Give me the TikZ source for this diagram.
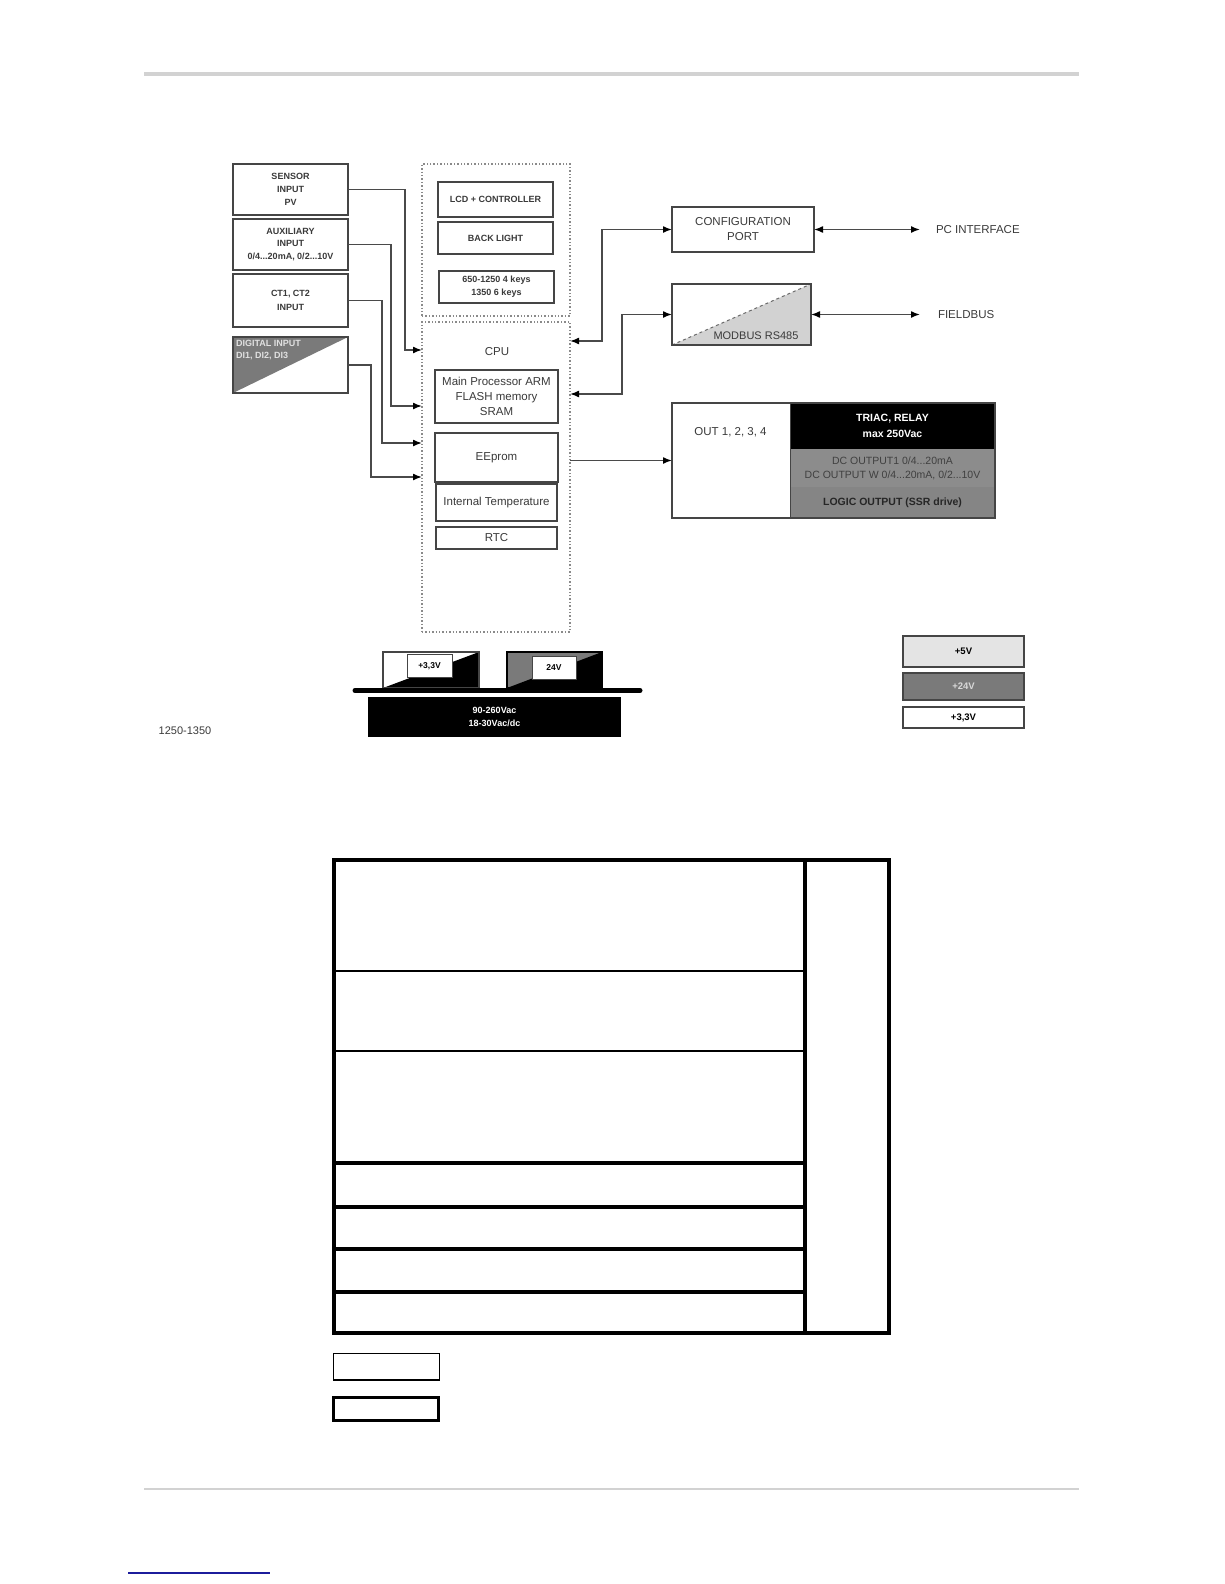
\documentclass[tikz,border=0pt]{standalone}
\usepackage{fontspec}
\setmainfont{Liberation Sans}
\usetikzlibrary{arrows.meta,calc}
\definecolor{lineg}{HTML}{4A4A4A}
\definecolor{boxc}{HTML}{454545}
\definecolor{txtc}{HTML}{3A3A3A}
\definecolor{contc}{HTML}{8A8A8A}
\definecolor{digg}{HTML}{7A7A7A}
\definecolor{mbg}{HTML}{D2D2D2}
\definecolor{dcg}{HTML}{8C8C8C}
\definecolor{logg}{HTML}{858585}
\definecolor{v5g}{HTML}{E4E4E4}
\definecolor{v24g}{HTML}{7A7A7A}
\definecolor{hdrg}{HTML}{D2D2D2}
\definecolor{blu}{HTML}{1C1C9C}
\begin{document}
\begin{tikzpicture}[x=1pt,y=-1pt,
  box/.style={draw=boxc, line width=1.4pt, fill=white, inner sep=0pt, outer sep=0pt, align=center, text=txtc},
  bt/.style={font=\fontsize{9}{13}\selectfont\bfseries},
  rt/.style={font=\fontsize{11.5}{15}\selectfont},
  cont/.style={draw=contc, line width=1.4pt, dotted, inner sep=0pt, outer sep=0pt},
  conn/.style={draw=lineg, line width=1.5pt, -{Latex[length=9pt,width=7pt,color=black]}},
  conntwo/.style={draw=lineg, line width=1.5pt, {Latex[length=9pt,width=7pt,color=black]}-{Latex[length=9pt,width=7pt,color=black]}},
  plain/.style={inner sep=0pt, outer sep=0pt, align=center, text=txtc},
  tline/.style={line width=4.5pt, line cap=rect},
  tthin/.style={line width=1.1pt}
]
\useasboundingbox (0,0) rectangle (1224,1584);
% page rules
\draw[hdrg, line width=4pt] (144,74) -- (1079,74);
\draw[hdrg, line width=2pt] (144,1489) -- (1079,1489);
\draw[blu, line width=1.3pt] (128,1573) -- (270,1573);

% containers
\node[cont, minimum width=148pt, minimum height=152pt] (topc) at (496,240) {};
\node[cont, minimum width=148pt, minimum height=310pt] (cpu) at (496,477) {};
\node[plain, rt] (cputxt) at (497,352) {CPU};

% input boxes
\node[box, bt, minimum width=115pt, minimum height=51pt] (sensor) at (290.5,189.5) {SENSOR\\INPUT\\PV};
\node[box, bt, minimum width=115pt, minimum height=51pt, font=\fontsize{9}{12.5}\selectfont\bfseries] (aux) at (290.5,244.5) {AUXILIARY\\INPUT\\0/4...20mA, 0/2...10V};
\node[box, bt, minimum width=115pt, minimum height=53pt, font=\fontsize{9}{14}\selectfont\bfseries] (ct) at (290.5,300.5) {CT1, CT2\\INPUT};
\node[box, minimum width=115pt, minimum height=56pt,
  path picture={\fill[digg] (path picture bounding box.north west) -- (path picture bounding box.north east) -- (path picture bounding box.south west) -- cycle;}] (dig) at (290.5,365) {};
\node[plain, anchor=west, align=left, text=white!88!black, font=\fontsize{9}{12}\selectfont\bfseries] (digtxt) at (236,350) {DIGITAL INPUT\\DI1, DI2, DI3};

% display block
\node[box, bt, minimum width=115pt, minimum height=35pt] (lcd) at (495.5,199.5) {LCD + CONTROLLER};
\node[box, bt, minimum width=115pt, minimum height=32pt] (back) at (495.5,238) {BACK LIGHT};
\node[box, bt, minimum width=115pt, minimum height=32pt] (keys) at (496.5,287) {650-1250 4 keys\\1350 6 keys};

% cpu parts
\node[box, rt, minimum width=123pt, minimum height=53pt] (mainp) at (496.5,396.5) {Main Processor ARM\\FLASH memory\\SRAM};
\node[box, rt, minimum width=123pt, minimum height=49pt] (eep) at (496.5,457.5) {EEprom};
\node[box, rt, minimum width=121pt, minimum height=37pt] (itemp) at (496.5,502.5) {Internal Temperature};
\node[box, rt, minimum width=121pt, minimum height=22pt] (rtc) at (496.5,538) {RTC};

% right side
\node[box, rt, minimum width=142pt, minimum height=45pt] (config) at (743,229.5) {CONFIGURATION\\PORT};
\node[box, minimum width=139pt, minimum height=61pt,
  path picture={\fill[mbg] (path picture bounding box.south west) -- (path picture bounding box.north east) -- (path picture bounding box.south east) -- cycle;
  \draw[boxc!80, line width=1pt, dashed] (path picture bounding box.south west) -- (path picture bounding box.north east);}] (modbus) at (741.5,314.5) {};
\node[plain, rt, font=\fontsize{11}{13}\selectfont] (mbtxt) at (756,336) {MODBUS RS485};
\coordinate (pcend) at (920,229.5);
\coordinate (fbend) at (920,314.5);
\node[plain, rt, anchor=west] (pctxt) at (936,229.5) {PC INTERFACE};
\node[plain, rt, anchor=west] (fbtxt) at (938,314.5) {FIELDBUS};

% outputs
\node[box, minimum width=323pt, minimum height=115pt] (out) at (833.5,460.5) {};
\node[plain, fill=black, text=white, minimum width=205pt, minimum height=46pt, font=\fontsize{10.5}{16}\selectfont\bfseries] (triac) at (892.5,426) {TRIAC, RELAY\\max 250Vac};
\node[plain, fill=dcg, text=black!75, minimum width=205pt, minimum height=38pt, font=\fontsize{10.5}{14}\selectfont] (dc) at (892.5,468) {DC OUTPUT1 0/4...20mA\\DC OUTPUT W 0/4...20mA, 0/2...10V};
\node[plain, fill=logg, text=black!85, minimum width=205pt, minimum height=31pt, font=\fontsize{10.5}{13}\selectfont\bfseries] (logic) at (892.5,502.5) {LOGIC OUTPUT (SSR drive)};
\draw[boxc, line width=1.4pt] (out.north west) rectangle (out.south east);
\draw[boxc, line width=1pt] (triac.north west) -- (logic.south west);
\node[plain, rt] (outtxt) at (730.5,432) {OUT 1, 2, 3, 4};

% connectors left
\coordinate (in1) at (cpu.west |- 0,350);
\coordinate (in2) at (cpu.west |- 0,406);
\coordinate (in3) at (cpu.west |- 0,443);
\coordinate (in4) at (cpu.west |- 0,477);
\draw[conn] (sensor.east) -| (405,350) -- (in1);
\draw[conn] (aux.east) -| (391,406) -- (in2);
\draw[conn] (ct.east) -| (382,443) -- (in3);
\draw[conn] (dig.east) -| (371,477) -- (in4);

% connectors right
\coordinate (r1) at (cpu.east |- 0,341);
\coordinate (r2) at (cpu.east |- 0,394);
\draw[conntwo] (r1) -| (602,229.5) -- (config.west);
\draw[conntwo] (r2) -| (622,314.5) -- (modbus.west);
\draw[conn] (cpu.east |- out.west) -- (out.west);
\draw[conntwo] (config.east) -- (pcend);
\draw[conntwo] (modbus.east) -- (fbend);

% power supply
\node[plain, minimum width=96pt, minimum height=36pt, draw=boxc, line width=1.1pt, fill=white,
  path picture={\fill[black] (path picture bounding box.south west) -- (path picture bounding box.north east) -- (path picture bounding box.south east) -- cycle;}] (p33) at (431,670) {};
\node[plain, minimum width=45pt, minimum height=23pt, draw=boxc, line width=1pt, fill=white, text=black, font=\fontsize{8.5}{10}\selectfont\bfseries] (p33l) at (429.5,666) {+3,3V};
\node[plain, minimum width=95pt, minimum height=36pt, draw=black, line width=1.1pt, fill=digg,
  path picture={\fill[black] (path picture bounding box.south west) -- (path picture bounding box.north east) -- (path picture bounding box.south east) -- cycle;}] (p24) at (554.5,670) {};
\node[plain, minimum width=44pt, minimum height=23pt, draw=boxc, line width=1pt, fill=white, text=black, font=\fontsize{8.5}{10}\selectfont\bfseries] (p24l) at (554,667.5) {24V};
\coordinate (barl) at (355,690.5);
\coordinate (barr) at (640,690.5);
\draw[black, line width=5pt, line cap=round] (barl) -- (barr);
\node[plain, fill=black, text=white, minimum width=253pt, minimum height=40pt, font=\fontsize{9}{13}\selectfont\bfseries] (mains) at (494.5,717) {90-260Vac\\18-30Vac/dc};
\node[plain, rt, font=\fontsize{11}{13}\selectfont] (model) at (185,731) {1250-1350};

% voltage legend
\node[box, minimum width=121pt, minimum height=31pt, fill=v5g, text=black, font=\fontsize{9.5}{11}\selectfont\bfseries] (v5) at (963.5,651.5) {+5V};
\node[box, minimum width=121pt, minimum height=27pt, fill=v24g, text=white!85!black, font=\fontsize{9.5}{11}\selectfont\bfseries] (v24) at (963.5,686.5) {+24V};
\node[box, minimum width=121pt, minimum height=21pt, text=black, font=\fontsize{9.5}{11}\selectfont\bfseries] (v33) at (963.5,717.5) {+3,3V};

% table
\draw[tline] (334,860) rectangle (889,1333);
\draw[tline] (805,860) -- (805,1333);
\draw[tthin] (334,971) -- (805,971);
\draw[tthin] (334,1051) -- (805,1051);
\draw[tline] (334,1163) -- (805,1163);
\draw[tline] (334,1207) -- (805,1207);
\draw[tline] (334,1249) -- (805,1249);
\draw[tline] (334,1292) -- (805,1292);
% legend boxes
\draw[line width=1.5pt] (333.5,1353.5) rectangle (439.5,1380);
\draw[line width=3.8pt] (333.5,1397.5) rectangle (438.5,1420.5);
\end{tikzpicture}
\end{document}
